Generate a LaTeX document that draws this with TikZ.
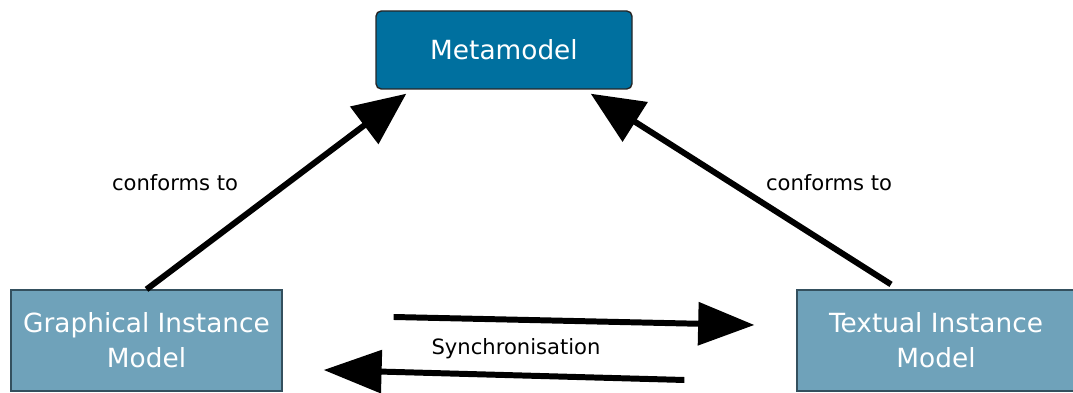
\documentclass[tikz,border=0pt]{standalone}
\usepackage{fontspec}
\setmainfont{DejaVu Sans}
\usepackage{tikz}
\usetikzlibrary{shapes,arrows.meta,positioning}

\definecolor{metablue}{HTML}{00709F}
\definecolor{instblue}{HTML}{6FA2BA}
\definecolor{instedge}{HTML}{34505E}

\begin{document}
\begin{tikzpicture}[
    metabox/.style={draw=black!85, fill=metablue, rounded corners=3pt, line width=0.8pt,
        minimum width=5.12cm, minimum height=1.56cm, text=white, font=\fontsize{15}{18}\selectfont},
    instbox/.style={draw=instedge, fill=instblue, line width=0.7pt, align=center,
        minimum width=5.42cm, minimum height=2.02cm, text=white, font=\fontsize{15}{20}\selectfont},
    link/.style={line width=3.4pt, -{Triangle[length=30pt,width=26pt]}},
    label/.style={font=\fontsize{12}{14}\selectfont}
  ]
  \useasboundingbox (0,0) rectangle (21.46,7.86);

  \node[metabox] (meta) at (10.08,6.86) {Metamodel};
  \node[instbox] (graphical) at (2.93,1.05) {Graphical Instance\\Model};
  \node[instbox, minimum width=5.56cm] (textual) at (18.72,1.05) {Textual Instance\\Model};

  % conforms-to links
  \draw[link] (graphical.north) -- ([shift={(0.62,-0.08)}]meta.south west);
  \draw[link] ([shift={(-0.9,0.1)}]textual.north) -- ([shift={(-0.84,-0.08)}]meta.south east);
  \node[label] at (3.5,4.2) {conforms to};
  \node[label] at (16.58,4.2) {conforms to};

  % synchronisation both ways
  \draw[link, -{Triangle[length=32pt,width=24pt]}] ([shift={(2.22,0.47)}]graphical.east) -- ([shift={(-0.84,0.31)}]textual.west);
  \draw[link, -{Triangle[length=33pt,width=24pt]}] ([shift={(-2.24,-0.79)}]textual.west) -- ([shift={(0.82,-0.59)}]graphical.east);
  \node[label] at (10.32,0.88) {Synchronisation};
\end{tikzpicture}
\end{document}
